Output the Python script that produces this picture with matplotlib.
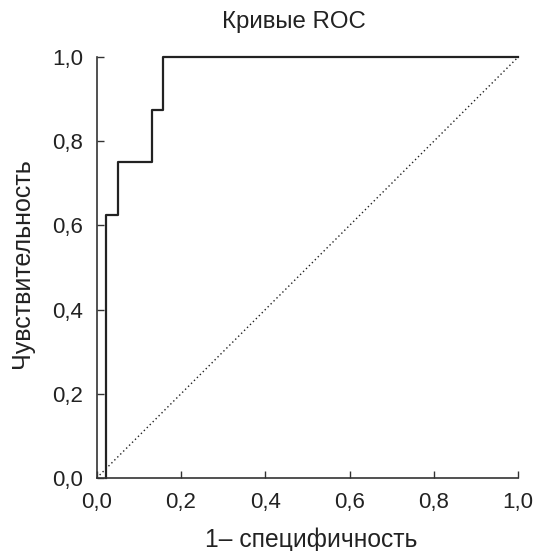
import matplotlib
matplotlib.use("Agg")
import matplotlib.pyplot as plt

fpr = [0.022, 0.022, 0.051, 0.132, 0.158, 1.0]
tpr = [0.0, 0.625, 0.75, 0.875, 1.0, 1.0]
diag = [0.0, 1.0]
ticks = [0.0, 0.2, 0.4, 0.6, 0.8, 1.0]
tick_labels = ["0,0", "0,2", "0,4", "0,6", "0,8", "1,0"]

plt.rcParams['font.family'] = ['Liberation Sans', 'DejaVu Sans']
col = '#222222'

fig = plt.figure(figsize=(5.36, 5.51), dpi=100)
ax = fig.add_axes([0.1804, 0.1325, 0.9668 - 0.1804, 0.8966 - 0.1325])

ax.plot(diag, diag, color=col, lw=1.0, linestyle=(0, (1, 2)), clip_on=False)
ax.plot(fpr, tpr, color=col, lw=1.6, drawstyle='steps-post', clip_on=False)

ax.set_xlim(0, 1)
ax.set_ylim(0, 1)
ax.set_xticks(ticks)
ax.set_xticklabels(tick_labels)
ax.set_yticks(ticks)
ax.set_yticklabels(tick_labels)
for s in ['top', 'right']:
    ax.spines[s].set_visible(False)
for s in ['left', 'bottom']:
    ax.spines[s].set_color('#333333')
    ax.spines[s].set_linewidth(1.2)
ax.tick_params(direction='in', length=5, width=1, colors='#333333',
               labelcolor=col, labelsize=16, pad=10)

fig.text(293.7/536, 1 - 21.7/551, 'Кривые ROC', ha='center', va='center',
         fontsize=17.3, color=col)
fig.text(311/536, 1 - 540/551, '1– специфичность', ha='center', va='center',
         fontsize=17.7, color=col)
fig.text(22/536, 1 - 263.5/551, 'Чувствительность', ha='center', va='center',
         rotation=90, fontsize=18, color=col)

fig.savefig('out.png', dpi=100)
